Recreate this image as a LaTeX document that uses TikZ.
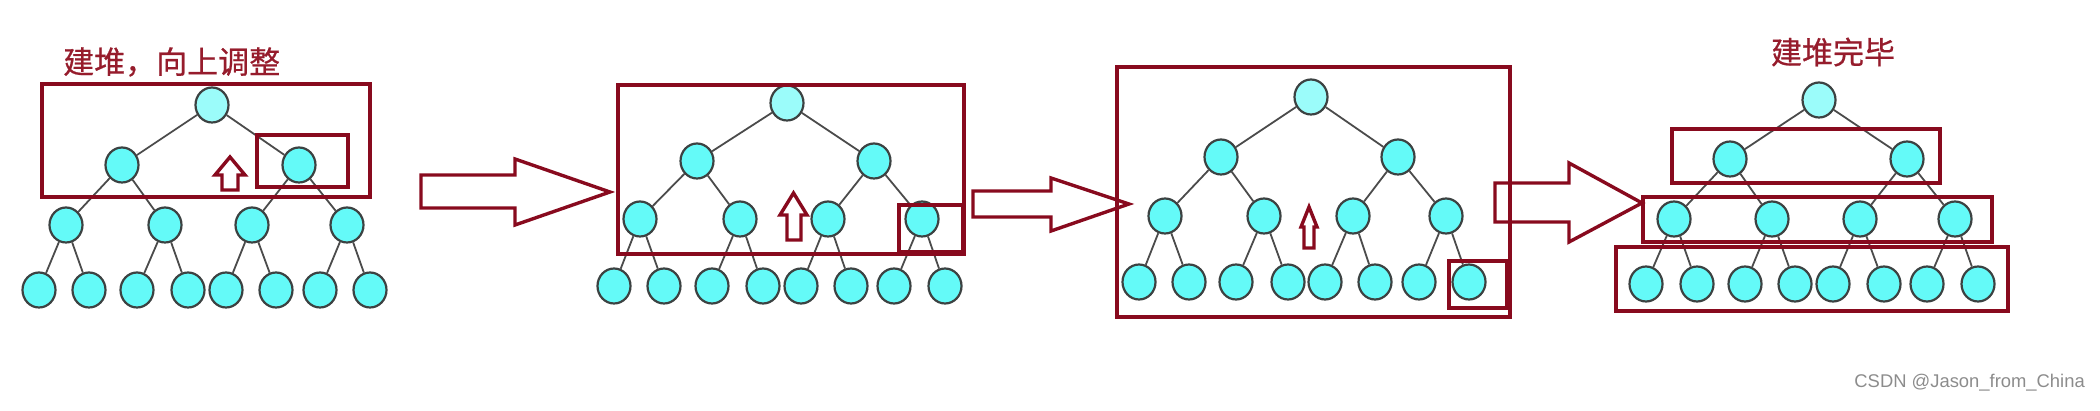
\documentclass[tikz,border=0pt]{standalone}
\usepackage{fontspec}
\usetikzlibrary{shapes.geometric}
\newfontfamily\cjk[FakeBold=0.6]{Noto Sans CJK SC}
\newfontfamily\wmfont{Liberation Sans}
\definecolor{hred}{RGB}{136,10,30}
\definecolor{htext}{RGB}{150,28,44}
\definecolor{hcyan}{RGB}{100,250,248}
\definecolor{hroot}{RGB}{155,252,250}
\definecolor{hborder}{RGB}{60,66,66}
\definecolor{hedge}{RGB}{75,75,75}
\definecolor{wmgray}{RGB}{140,140,140}
\tikzset{
  hnode/.style={ellipse, draw=hborder, line width=2.2pt, fill=hcyan, minimum width=33pt, minimum height=35pt, inner sep=0pt},
  hrootnode/.style={hnode, fill=hroot},
  hedgeline/.style={draw=hedge, line width=1.8pt},
  hbox/.style={draw=hred, line width=3.6pt},
  harrow/.style={draw=hred, line width=3.4pt, line join=miter},
  hlabel/.style={text=htext, font=\cjk\fontsize{31}{31}\selectfont, inner sep=0pt},
  wmark/.style={text=wmgray, font=\wmfont\fontsize{18.4}{18.4}\selectfont, inner sep=0pt}
}
\newcommand\hptree[8]{%
  \node[hrootnode] (#1r) at (#2) {};
  \foreach \x [count=\i] in {#3} \node[hnode] (#1b\i) at (\x,#4) {};
  \foreach \x [count=\i] in {#5} \node[hnode] (#1c\i) at (\x,#6) {};
  \foreach \x [count=\i] in {#7} \node[hnode] (#1d\i) at (\x,#8) {};
  \foreach \i in {1,2} \draw[hedgeline] (#1r) -- (#1b\i);
  \foreach \i in {1,...,4} {\pgfmathtruncatemacro\hp{(\i+1)/2}\draw[hedgeline] (#1b\hp) -- (#1c\i);}
  \foreach \i in {1,...,8} {\pgfmathtruncatemacro\hp{(\i+1)/2}\draw[hedgeline] (#1c\hp) -- (#1d\i);}
}
\begin{document}
\begin{tikzpicture}[x=1pt,y=-1pt]
\useasboundingbox (0,0) rectangle (2100,411);

% panel 1
\node[hlabel, anchor=west] (t1) at (63,62) {建堆，向上调整};
\hptree{a}{212,105}{122,299}{165}{66,165,252,347}{225}{39,89,137,188,226,276,320,370}{290}
\draw[hbox] (42,84) rectangle (370,197);
\draw[hbox] (257,135) rectangle (348,187);
\draw[harrow] (230,157) -- (245,175) -- (238,175) -- (238,190) -- (222,190) -- (222,175) -- (215,175) -- cycle;

% arrow 1
\draw[harrow] (421,175) -- (515,175) -- (515,159) -- (610,192) -- (515,225) -- (515,208) -- (421,208) -- cycle;

% panel 2
\hptree{b}{787,103}{697,874}{161}{640,740,828,922}{219}{614,664,712,763,801,851,894,945}{286}
\draw[hbox] (618,85) rectangle (964,254);
\draw[hbox] (899,205) rectangle (963,252);
\draw[harrow] (793.5,193) -- (807,215) -- (801,215) -- (801,240) -- (787,240) -- (787,215) -- (780,215) -- cycle;

% arrow 2
\draw[harrow] (973,191) -- (1051,191) -- (1051,178) -- (1129,204) -- (1051,231) -- (1051,217) -- (973,217) -- cycle;

% panel 3
\hptree{c}{1311,97}{1221,1398}{157}{1165,1264,1353,1446}{216}{1139,1189,1236,1288,1325,1375,1419,1469}{282}
\draw[hbox] (1117,67) rectangle (1510,317);
\draw[hbox] (1449,261) rectangle (1507,308);
\draw[harrow] (1309,207) -- (1317,227) -- (1314,227) -- (1314,248) -- (1304,248) -- (1304,227) -- (1301,227) -- cycle;

% arrow 3
\draw[harrow] (1495,183) -- (1569,183) -- (1569,163) -- (1642,203) -- (1569,242) -- (1569,222) -- (1495,222) -- cycle;

% panel 4
\node[hlabel] (t2) at (1833,52) {建堆完毕};
\hptree{d}{1819,100}{1730,1907}{159}{1674,1772,1860,1955}{219}{1646,1697,1745,1795,1833,1884,1927,1978}{284}
\draw[hbox] (1672,129) rectangle (1940,183);
\draw[hbox] (1643,197) rectangle (1992,242);
\draw[hbox] (1616,247) rectangle (2008,311);

% watermark
\node[wmark, anchor=east] (wm) at (2085,383) {CSDN @Jason\_from\_China};
\end{tikzpicture}
\end{document}
